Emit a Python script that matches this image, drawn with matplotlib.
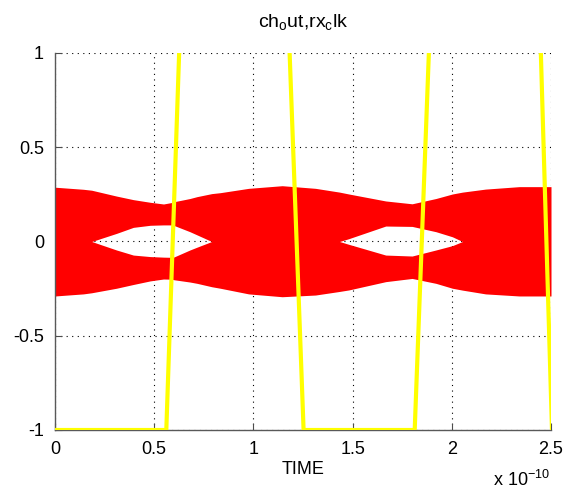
import numpy as np
import matplotlib
matplotlib.use("Agg")
import matplotlib.pyplot as plt

plt.rcParams["font.family"] = ["Liberation Sans", "DejaVu Sans"]
plt.rcParams["mathtext.fontset"] = "custom"
plt.rcParams["mathtext.rm"] = "Liberation Sans"
plt.rcParams["mathtext.it"] = "Liberation Sans"
plt.rcParams["axes.unicode_minus"] = False

# tempo em unidades de 1e-10 s
eye_t = [0, 0.143, 0.185, 0.31, 0.395, 0.48, 0.547, 0.589, 0.6, 0.68, 0.716, 0.79,
         0.833, 0.976, 1.145, 1.313, 1.434, 1.481, 1.667, 1.80, 1.92, 2.003, 2.054,
         2.17, 2.34, 2.5]
outer_top = [0.288, 0.277, 0.272, 0.241, 0.222, 0.208, 0.199, 0.207, 0.211, 0.228, 0.238, 0.254,
             0.259, 0.282, 0.296, 0.282, 0.262, 0.252, 0.215, 0.200, 0.228, 0.252, 0.262,
             0.278, 0.291, 0.291]
outer_bot = [-0.289, -0.278, -0.272, -0.248, -0.228, -0.209, -0.199, -0.200, -0.203, -0.215, -0.222, -0.240,
             -0.248, -0.278, -0.293, -0.284, -0.265, -0.257, -0.213, -0.196, -0.222, -0.248, -0.258,
             -0.278, -0.289, -0.289]
inner_top = [0, 0, 0, 0.043, 0.075, 0.086, 0.088, 0.088, 0.085, 0.052, 0.035, 0,
             0, 0, 0, 0, 0, 0.015, 0.082, 0.080, 0.052, 0.025, 0,
             0, 0, 0]
inner_bot = [0, 0, 0, -0.045, -0.072, -0.080, -0.083, -0.084, -0.082, -0.045, -0.030, 0,
             0, 0, 0, 0, 0, -0.015, -0.072, -0.077, -0.045, -0.022, 0,
             0, 0, 0]

clk_t = [0, 0.561, 0.629, 1.179, 1.253, 1.813, 1.888, 2.446, 2.505]
clk_v = [-1, -1, 1.1, 1.1, -1, -1, 1.1, 1.1, -1]

xticks = [0, 0.5, 1, 1.5, 2, 2.5]
xtick_labels = ["0", "0.5", "1", "1.5", "2", "2.5"]
yticks = [-1, -0.5, 0, 0.5, 1]
ytick_labels = ["-1", "-0.5", "0", "0.5", "1"]

escala = 1e-10
t = np.array(eye_t) * escala

fig = plt.figure(figsize=(5.69, 4.94), dpi=100)
ax = fig.add_axes([55 / 569, 64 / 494, 496 / 569, 377 / 494])

ax.fill_between(t, inner_top, outer_top, color="#ff0000", lw=0, zorder=2)
ax.fill_between(t, outer_bot, inner_bot, color="#ff0000", lw=0, zorder=2)
ax.plot(np.array(clk_t) * escala, clk_v, color="#ffff00", lw=3, zorder=3)

ax.set_xlim(0, 2.5 * escala)
ax.set_ylim(-1, 1)
ax.set_xticks(np.array(xticks) * escala)
ax.set_xticklabels(xtick_labels)
ax.set_yticks(yticks)
ax.set_yticklabels(ytick_labels)
ax.tick_params(direction="in", length=5, width=0.8, color="0.3", labelsize=13, pad=8)

ax.grid(True, color="black", linestyle=(0, (1, 4)), lw=0.8)
ax.set_axisbelow(True)
for lado in ["top", "right"]:
    ax.spines[lado].set_visible(False)
for lado in ["left", "bottom"]:
    ax.spines[lado].set_color("0.35")
    ax.spines[lado].set_linewidth(1.0)

ax.set_title(r"ch$_{\mathrm{o}}$ut,rx$_{\mathrm{c}}$lk", fontsize=14, pad=19)
ax.set_xlabel("TIME", fontsize=13, labelpad=2)
fig.text(550 / 569, 8 / 494, r"x 10$^{\mathrm{-10}}$", fontsize=13, ha="right", va="baseline")

fig.savefig("out.png", dpi=100)
